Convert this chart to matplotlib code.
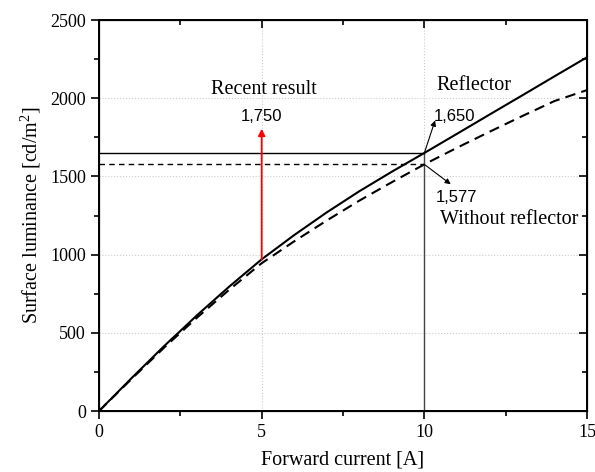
import matplotlib
matplotlib.use("Agg")
import matplotlib.pyplot as plt
from matplotlib.ticker import MultipleLocator

plt.rcParams["mathtext.fontset"] = "custom"
plt.rcParams["mathtext.rm"] = "Liberation Serif"
plt.rcParams["mathtext.it"] = "Liberation Serif:italic"

current = [0, 1, 2, 2.5, 3, 4, 5, 6, 7, 8, 9, 10, 11, 12, 13, 14, 15]
reflector = [0, 210, 415, 512, 610, 795, 970, 1125, 1270, 1405, 1530, 1650, 1772, 1895, 2017, 2140, 2262]
without_reflector = [0, 205, 405, 500, 595, 775, 945, 1085, 1218, 1345, 1463, 1577, 1683, 1785, 1885, 1982, 2052]

ref_level = 1650
noref_level = 1577
op_current = 10
recent_current = 5
recent_start = 970
recent_end = 1805

serif = ["Liberation Serif", "DejaVu Serif"]
sans = ["Liberation Sans", "DejaVu Sans"]

fig = plt.figure(figsize=(5.95, 4.72), dpi=100)
ax = fig.add_axes([0.1664, 0.1292, 0.8202, 0.8284])

ax.plot(current, reflector, color="black", lw=1.5, zorder=3)
ax.plot(current, without_reflector, color="black", lw=1.5, ls=(0, (5, 3)), zorder=3)

ax.plot([0, op_current], [ref_level, ref_level], color="black", lw=1.0)
ax.plot([0, op_current], [noref_level, noref_level], color="black", lw=1.0, ls=(0, (4, 3)))
ax.plot([op_current, op_current], [0, ref_level], color="#444444", lw=1.0)

ax.annotate("", xy=(recent_current, recent_end), xytext=(recent_current, recent_start),
            arrowprops=dict(arrowstyle="-|>", color="red", lw=1.3, mutation_scale=10,
                            shrinkA=0, shrinkB=0), zorder=4)

ax.annotate("", xy=(10.33, 1858), xytext=(op_current, ref_level),
            arrowprops=dict(arrowstyle="-|>", color="black", lw=0.8, mutation_scale=8,
                            shrinkA=0, shrinkB=0))
ax.annotate("", xy=(10.81, 1450), xytext=(op_current, noref_level),
            arrowprops=dict(arrowstyle="-|>", color="black", lw=0.8, mutation_scale=8,
                            shrinkA=0, shrinkB=0))

ax.text(5.06, 2056, "Recent result", family=serif, fontsize=14.5, ha="center", va="center")
ax.text(5.0, 1886, "1,750", family=sans, fontsize=12, ha="center", va="center")
ax.text(10.38, 2082, "Reflector", family=serif, fontsize=14.5, ha="left", va="center")
ax.text(10.30, 1884, "1,650", family=sans, fontsize=12, ha="left", va="center")
ax.text(10.36, 1368, "1,577", family=sans, fontsize=12, ha="left", va="center")
ax.text(10.48, 1224, "Without reflector", family=serif, fontsize=14.5, ha="left", va="center")

ax.set_xlim(0, 15)
ax.set_ylim(0, 2500)
ax.xaxis.set_major_locator(MultipleLocator(5))
ax.xaxis.set_minor_locator(MultipleLocator(2.5))
ax.yaxis.set_major_locator(MultipleLocator(500))
ax.yaxis.set_minor_locator(MultipleLocator(250))

ax.grid(True, which="major", color="#cccccc", ls=":", lw=0.8)
ax.set_axisbelow(True)

for s in ax.spines.values():
    s.set_linewidth(1.4)

ax.tick_params(which="both", direction="out", top=False, right=False, width=1.2)
ax.tick_params(which="major", length=6)
ax.tick_params(which="minor", length=3.5)
for lab in ax.get_xticklabels() + ax.get_yticklabels():
    lab.set_family(serif)
    lab.set_fontsize(13)

# mirrored inward ticks on top/right
axt = ax.twiny()
axt.set_xlim(ax.get_xlim())
axt.xaxis.set_major_locator(MultipleLocator(5))
axt.xaxis.set_minor_locator(MultipleLocator(2.5))
axt.tick_params(which="both", direction="in", labeltop=False, width=1.2)
axt.tick_params(which="major", length=6)
axt.tick_params(which="minor", length=3.5)
axr = ax.twinx()
axr.set_ylim(ax.get_ylim())
axr.yaxis.set_major_locator(MultipleLocator(500))
axr.yaxis.set_minor_locator(MultipleLocator(250))
axr.tick_params(which="both", direction="in", labelright=False, width=1.2)
axr.tick_params(which="major", length=6)
axr.tick_params(which="minor", length=3.5)

ax.set_xlabel("Forward current [A]", family=serif, fontsize=14.5, labelpad=7)
ax.set_ylabel("Surface luminance [cd/m$^2$]", family=serif, fontsize=14.5, labelpad=5)

fig.savefig("out.png", dpi=100)
